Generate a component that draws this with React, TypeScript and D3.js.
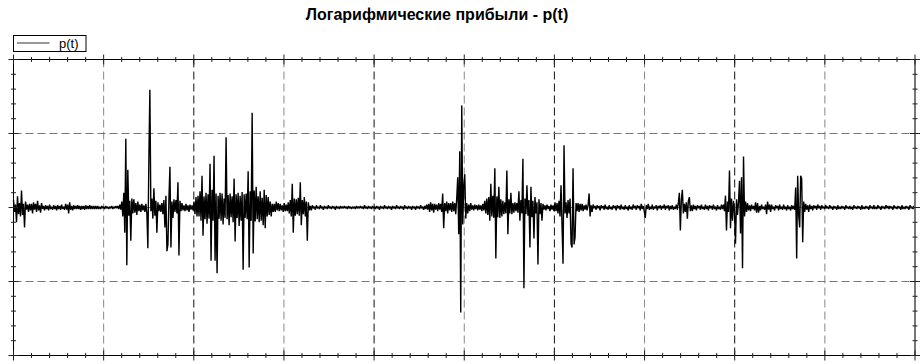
import React, { useEffect, useRef } from 'react';
import * as d3 from 'd3';

const chartTitle = 'Логарифмические прибыли - p(t)';
const seriesName = 'p(t)';

// log returns (%): ten blocks of 90 samples, one block per grid column
const block0 = [
  1.0, -0.6, 0.4, -2.0, 1.5, -0.9, 0.6, -1.2, 2.3, -1.0,
  0.5, -2.7, 0.8, -0.3, 0.4, -0.6, 0.5, -0.4, 0.5, -0.8,
  0.7, -0.3, 0.5, -0.6, 0.9, -0.4, 0.3, -0.7, 0.6, -0.2,
  0.2, -0.4, 0.3, -0.2, 0.2, -0.4, 0.4, -0.2, 0.1, -0.3,
  0.3, -0.2, 0.2, -0.4, 0.3, -0.2, 0.2, -0.3, 0.4, -0.2,
  0.1, -0.3, 0.5, -0.3, 0.4, -0.8, 0.7, -0.3, 0.2, -0.4,
  0.3, -0.2, 0.2, -0.2, 0.3, -0.2, 0.2, -0.3, 0.2, -0.2,
  0.2, -0.3, 0.3, -0.2, 0.2, -0.2, 0.3, -0.2, 0.2, -0.2,
  0.2, -0.2, 0.2, -0.2, 0.2, -0.2, 0.1, -0.2, 0.2, -0.1,
];
const block1 = [
  0.1, -0.2, 0.2, -0.1, 0.1, -0.2, 0.1, -0.1, 0.2, -0.2,
  0.1, -0.1, 0.2, -0.1, 0.2, -0.2, 0.4, -0.3, 0.8, -1.2,
  2.0, -3.4, 9.3, -7.8, 5.1, -1.1, 0.9, -4.5, 1.2, -0.8,
  1.1, -0.7, 0.6, -1.0, 0.8, -0.5, 0.4, -0.6, 0.5, -0.4,
  0.3, -0.6, 0.5, -0.8, -5.5, 6.6, 15.9, -0.5, 1.2, -1.5,
  2.6, -1.1, 0.9, -3.4, 0.7, -0.5, 0.4, -0.6, 0.6, -0.9,
  1.0, -2.7, 1.6, -5.9, -5.0, 1.2, 5.5, -5.4, 0.8, -1.4,
  1.1, -0.6, 1.0, -0.8, 3.4, -6.5, 0.9, -0.5, 0.6, -0.4,
  0.3, -0.5, 0.5, -0.4, 0.3, -0.6, 0.4, -0.3, 0.3, -0.4,
];
const block2 = [
  0.8, -0.9, 1.4, -1.2, 1.6, -1.2, 2.2, -1.8, 4.3, -3.8,
  1.5, -1.6, 2.0, -2.2, 1.8, -1.5, 5.9, -7.2, 2.4, -1.8,
  7.0, -7.2, 1.9, -8.9, 1.6, -1.5, 2.0, -1.8, 1.9, -2.3,
  1.2, -1.4, 9.5, -1.6, 1.7, -2.4, 1.9, -1.3, 1.5, -2.0,
  3.9, -4.6, 1.8, -1.4, 2.0, -2.5, 1.6, -1.8, 2.1, -8.4,
  1.8, -1.4, 1.9, -1.6, 4.9, -8.1, 2.2, -1.8, 12.8, -6.2,
  2.3, -1.9, 2.8, -1.6, 1.5, -2.0, 2.2, -1.8, 1.3, -2.4,
  2.4, -2.8, 1.7, -1.2, 1.4, -1.0, 0.8, -1.2, 0.5, -0.6,
  0.5, -0.6, 0.8, -0.4, 0.6, -0.5, 0.5, -0.4, 0.3, -0.6,
];
const block3 = [
  0.6, -0.5, 0.4, -0.5, 0.7, -0.8, 1.0, -1.2, 3.2, -3.4,
  1.2, -1.1, 1.1, -0.9, 1.3, -1.1, 3.4, -2.4, 1.0, -0.9,
  1.4, -1.2, 0.8, -4.5, 0.7, -0.4, 0.2, -0.4, 0.3, -0.1,
  0.1, -0.3, 0.3, -0.1, 0.1, -0.2, 0.3, -0.1, 0.1, -0.3,
  0.2, -0.1, 0.1, -0.2, 0.3, -0.1, 0.1, -0.2, 0.2, -0.1,
  0.1, -0.3, 0.2, -0.1, 0.1, -0.2, 0.2, -0.1, 0.1, -0.1,
  0.2, -0.1, 0.1, -0.2, 0.2, -0.1, 0.1, -0.2, 0.1, -0.1,
  0.1, -0.2, 0.2, -0.1, 0.1, -0.1, 0.2, -0.1, 0.1, -0.2,
  0.3, -0.1, 0.1, -0.2, 0.2, -0.1, 0.1, -0.2, 0.2, -0.1,
];
const block4 = [
  0.1, -0.2, 0.2, -0.1, 0.1, -0.3, 0.2, -0.1, 0.1, -0.2,
  0.3, -0.1, 0.1, -0.2, 0.2, -0.1, 0.1, -0.3, 0.2, -0.1,
  0.1, -0.2, 0.3, -0.1, 0.1, -0.2, 0.2, -0.1, 0.1, -0.3,
  0.3, -0.1, 0.1, -0.2, 0.2, -0.1, 0.1, -0.3, 0.2, -0.1,
  0.1, -0.3, 0.2, -0.1, 0.1, -0.2, 0.3, -0.1, 0.1, -0.3,
  0.2, -0.2, 0.4, -0.3, 0.5, -0.6, 0.7, -0.4, 0.5, -0.7,
  0.5, -0.3, 0.4, -0.5, 0.6, -0.3, 0.5, -0.6, 1.9, -2.8,
  0.6, -0.5, 0.8, -0.8, 0.6, -0.4, 0.6, -0.6, 0.8, -0.5,
  0.6, -0.9, 1.2, 4.1, -3.6, 7.6, -14.2, 13.8, -2.3, 3.0,
];
const block5 = [
  4.5, -1.5, 0.6, -0.8, 0.4, -0.5, 0.6, -0.3, 0.3, -0.4,
  0.4, -0.2, 0.3, -0.4, 0.4, -0.3, 0.3, -0.5, 0.5, -0.4,
  0.9, -0.8, 1.2, -1.0, 1.4, -1.8, 3.2, -1.2, 1.6, -1.4,
  5.3, -6.9, 1.5, -1.3, 2.8, -1.4, 1.1, -1.2, 0.9, -0.9,
  0.7, -0.8, 5.0, -3.6, 1.1, -0.8, 2.0, -0.9, 0.6, -0.7,
  0.7, -0.5, 0.6, -0.7, 2.2, -1.8, 1.0, -0.8, 6.6, -10.9,
  1.2, -0.9, 3.0, -1.1, 1.0, -5.4, 2.8, -1.3, 0.9, -4.2,
  1.4, -0.8, 0.7, -7.7, 1.1, -0.9, 0.6, -1.8, 0.5, -0.3,
  0.3, -0.4, 0.4, -0.2, 0.2, -0.5, 0.4, -0.3, 0.3, -0.5,
];
const block6 = [
  0.7, -0.5, 0.6, -0.8, 0.9, -1.2, 3.0, -2.4, -7.6, 8.4,
  -0.8, 0.7, -1.4, 1.0, -0.8, 1.2, -4.9, -5.4, 5.3, -5.0,
  -4.0, 0.6, -0.5, 0.6, -0.6, 0.5, -0.4, 0.5, -0.5, 0.3,
  -0.3, 0.4, -0.4, 0.3, 1.9, -1.2, 0.3, -0.6, 0.4, -0.1,
  0.2, -0.3, 0.3, -0.1, 0.2, -0.4, 0.3, -0.1, 0.2, -0.3,
  0.4, -0.2, 0.1, -0.3, 0.3, -0.2, 0.1, -0.3, 0.3, -0.1,
  0.2, -0.4, 0.3, -0.1, 0.2, -0.3, 0.4, -0.2, 0.1, -0.3,
  0.3, -0.2, 0.1, -0.4, 0.3, -0.2, 0.1, -0.3, 0.4, -0.1,
  0.2, -0.3, 0.3, -0.1, 0.2, -0.4, 0.5, -0.2, 0.2, -0.5,
];
const block7 = [
  -1.4, 0.3, -0.2, 0.5, -0.3, 0.1, -0.2, 0.4, -0.3, 0.1,
  -0.1, 0.3, -0.4, 0.2, -0.1, 0.3, -0.3, 0.2, -0.1, 0.4,
  -0.3, 0.2, -0.1, 0.3, -0.4, 0.2, -0.2, 0.3, -0.3, 0.1,
  -0.2, 0.4, -0.3, 0.6, 2.0, -3.1, 1.0, 2.4, -0.8, 0.5,
  -0.6, 0.7, -1.5, 0.9, 1.4, -0.5, 0.3, -0.5, 0.4, -0.2,
  0.2, -0.4, 0.3, -0.1, 0.2, -0.3, 0.4, -0.2, 0.1, -0.3,
  0.4, -0.2, 0.2, -0.4, 0.3, -0.1, 0.2, -0.3, 0.4, -0.2,
  0.1, -0.4, 0.3, -0.2, 0.1, -0.3, 0.4, -0.2, 0.4, -0.5,
  1.6, -3.1, 0.8, -0.6, 5.0, -2.8, 1.2, -1.8, 0.9, -0.6,
];
const block8 = [
  -4.9, 1.1, -1.0, 0.8, 3.6, -3.5, 4.1, -8.2, 6.9, -1.2,
  0.8, -0.6, 0.6, -0.4, 0.3, -0.5, 0.4, -0.2, 0.2, -0.4,
  0.7, -0.7, 0.6, -0.7, 0.2, -0.4, 0.4, -0.2, 0.1, -0.3,
  0.4, -0.9, 0.8, -0.3, 0.4, -0.6, 0.4, -0.2, 0.1, -0.4,
  0.3, -0.1, 0.2, -0.4, 0.4, -0.2, 0.1, -0.3, 0.4, -0.2,
  0.1, -0.4, 0.3, -0.2, 0.1, -0.4, 0.3, -0.2, 0.2, -0.3,
  2.7, -6.9, 4.3, -1.0, -2.7, 4.3, 3.9, -4.7, 0.8, -0.6,
  0.5, -0.3, 0.3, -0.6, 0.4, -0.2, 0.2, -0.4, 0.3, -0.1,
  0.2, -0.3, 0.4, -0.1, 0.2, -0.3, 0.3, -0.1, 0.1, -0.2,
];
const block9 = [
  0.3, -0.1, 0.1, -0.2, 0.3, -0.1, 0.1, -0.3, 0.2, -0.1,
  0.1, -0.3, 0.3, -0.2, 0.1, -0.2, 0.2, -0.1, 0.1, -0.3,
  0.3, -0.1, 0.1, -0.2, 0.2, -0.2, 0.1, -0.3, 0.3, -0.1,
  0.1, -0.2, 0.2, -0.1, 0.1, -0.3, 0.3, -0.2, 0.1, -0.2,
  0.2, -0.1, 0.1, -0.3, 0.3, -0.1, 0.1, -0.2, 0.3, -0.2,
  0.1, -0.2, 0.3, -0.1, 0.1, -0.3, 0.2, -0.1, 0.1, -0.2,
  0.3, -0.1, 0.2, -0.2, 0.2, -0.1, 0.1, -0.3, 0.3, -0.1,
  0.1, -0.2, 0.2, -0.1, 0.1, -0.3, 0.3, -0.2, 0.1, -0.2,
  0.2, -0.1, 0.1, -0.3, 0.3, -0.1, 0.1, -0.2, 0.2, -0.1,
];

const returns = [...block0, ...block1, ...block2, ...block3, ...block4, ...block5, ...block6, ...block7, ...block8, ...block9];

const yDomain = [-20, 20];
const yGrid = [-10, 0, 10];
const yMinor = d3.range(-20, 21, 2);
const xDivisions = 10;
const xMinorPerDivision = 5;

const App = () => {
  const ref = useRef<SVGSVGElement>(null);

  useEffect(() => {
    const svg = d3.select(ref.current);
    svg.selectAll('*').remove();

    const margin = { left: 13.5, right: 915, top: 59.5, bottom: 355.5 };
    const n = returns.length - 1;

    const x = d3.scaleLinear().domain([0, n]).range([margin.left, margin.right]);
    const y = d3.scaleLinear().domain(yDomain).range([margin.bottom, margin.top]);

    const xGrid = d3.range(xDivisions + 1).map(k => (n * k) / xDivisions);
    const xMinor = d3.range(xDivisions * xMinorPerDivision + 1).map(k => (n * k) / (xDivisions * xMinorPerDivision));

    svg.append('rect').attr('width', 924).attr('height', 364).attr('fill', '#fff');

    // grid
    const grid = svg.append('g').attr('fill', 'none').attr('stroke-width', 1);
    grid.selectAll('line.v')
      .data(xGrid.slice(1, -1))
      .enter().append('line')
      .attr('x1', d => x(d)).attr('x2', d => x(d))
      .attr('y1', margin.top).attr('y2', margin.bottom)
      .attr('stroke', (d, i) => (i % 2 === 1 ? '#111' : '#888'))
      .attr('stroke-dasharray', '8,4');
    grid.selectAll('line.h')
      .data(yGrid)
      .enter().append('line')
      .attr('x1', margin.left).attr('x2', margin.right)
      .attr('y1', d => y(d)).attr('y2', d => y(d))
      .attr('stroke', '#777')
      .attr('stroke-dasharray', '8,4');

    // series
    const line = d3.line<number>()
      .x((d, i) => x(i))
      .y(d => y(d));
    svg.append('path')
      .datum(returns)
      .attr('d', line)
      .attr('fill', 'none')
      .attr('stroke', '#000')
      .attr('stroke-width', 1.4)
      .attr('stroke-linejoin', 'bevel');

    // frame
    const frame = svg.append('g');
    frame.append('line').attr('x1', margin.left).attr('x2', margin.right).attr('y1', margin.top).attr('y2', margin.top).attr('stroke', '#000');
    frame.append('line').attr('x1', margin.left).attr('x2', margin.right).attr('y1', margin.bottom).attr('y2', margin.bottom).attr('stroke', '#000');
    frame.append('line').attr('x1', margin.left).attr('x2', margin.left).attr('y1', margin.top).attr('y2', margin.bottom).attr('stroke', '#000');
    frame.append('line').attr('x1', margin.right).attr('x2', margin.right).attr('y1', margin.top).attr('y2', margin.bottom).attr('stroke', '#777').attr('stroke-width', 2);

    // ticks
    const tick = 2.5;
    const isMajorX = (i: number) => i % xMinorPerDivision === 0;
    [margin.top, margin.bottom].forEach(y0 => {
      frame.selectAll(null)
        .data(xMinor)
        .enter().append('line')
        .attr('x1', d => x(d)).attr('x2', d => x(d))
        .attr('y1', (d, i) => y0 - (isMajorX(i) ? 5 : tick))
        .attr('y2', (d, i) => y0 + (isMajorX(i) ? 5 : tick))
        .attr('stroke', '#222');
    });
    [margin.left, margin.right].forEach(x0 => {
      frame.selectAll(null)
        .data(yMinor)
        .enter().append('line')
        .attr('y1', d => y(d)).attr('y2', d => y(d))
        .attr('x1', (d) => x0 - (d % 10 === 0 ? 5 : tick))
        .attr('x2', (d) => x0 + (d % 10 === 0 ? 5 : tick))
        .attr('stroke', '#222');
    });

    // legend
    const legend = svg.append('g').attr('transform', 'translate(13.5,35.5)');
    legend.append('rect').attr('width', 72.5).attr('height', 16).attr('fill', '#fff').attr('stroke', '#000');
    legend.append('line').attr('x1', 3.5).attr('x2', 36).attr('y1', 7.5).attr('y2', 7.5).attr('stroke', '#333');
    legend.append('text')
      .attr('x', 45.5).attr('y', 12.5)
      .attr('font-family', '"Liberation Sans", Arial, sans-serif')
      .attr('font-size', 13)
      .attr('fill', '#000')
      .text(seriesName);

    // title
    svg.append('text')
      .attr('x', 437).attr('y', 20)
      .attr('text-anchor', 'middle')
      .attr('font-family', '"Liberation Sans", Arial, sans-serif')
      .attr('font-weight', 'bold')
      .attr('font-size', 16)
      .attr('fill', '#000')
      .text(chartTitle);
  }, []);

  return (
    <svg ref={ref} width={924} height={364} style={{ position: 'absolute', left: 0, top: 0, display: 'block' }}></svg>
  );
};

export default App;
